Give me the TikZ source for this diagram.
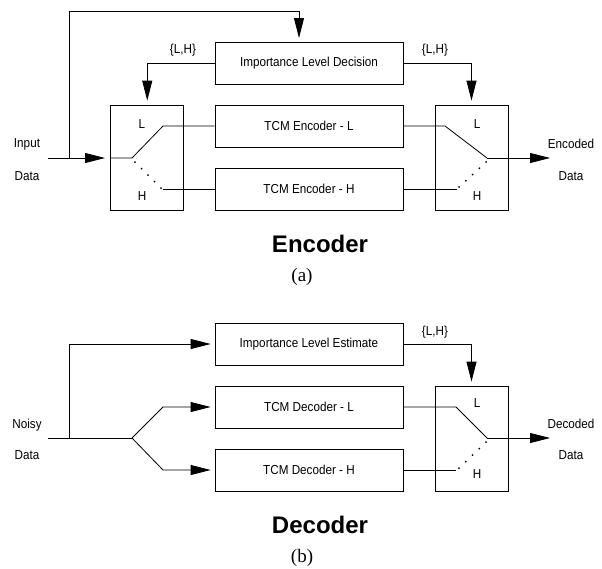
\documentclass[tikz,border=0pt]{standalone}
\usepackage{fontspec}
\setmainfont{Liberation Sans}
\newfontfamily\labfont[FakeStretch=0.9]{Liberation Sans}
\newfontfamily\capfont{Liberation Serif}
\usetikzlibrary{arrows.meta,calc}
\begin{document}
\begin{tikzpicture}[x=1pt,y=-1pt,
  line width=0.8pt,
  box/.style={draw,rectangle,minimum width=188pt,minimum height=42pt,inner sep=0pt,font=\labfont\fontsize{13}{13}\selectfont},
  swbox/.style={draw,rectangle,minimum width=73pt,minimum height=105pt,inner sep=0pt},
  lab/.style={anchor=base,inner sep=0pt,font=\labfont\fontsize{13}{13}\selectfont},
  title/.style={anchor=base,inner sep=0pt,font=\bfseries\fontsize{24}{24}\selectfont},
  sub/.style={anchor=base,inner sep=0pt,font=\capfont\fontsize{19}{19}\selectfont},
  arr/.style={-{Triangle[length=20pt,width=10pt]}},
  arrs/.style={arr,shorten >=4pt},
  dotsty/.style={fill=black}
]
\useasboundingbox (0,0) rectangle (602,568);

% ---------------- Encoder ----------------
\node[box] (idec) at (309,63) {Importance Level Decision};
\node[box] (encL) at (309,126) {TCM Encoder - L};
\node[box] (encH) at (309,189) {TCM Encoder - H};
\node[swbox] (swL) at (147.25,157.5) {};
\node[swbox] (swR) at (471.5,157.5) {};

\node[lab] (inA) at (27,147) {Input};
\node[lab] (inB) at (27,180) {Data};
\node[lab] (outA) at (571,148) {Encoded};
\node[lab] (outB) at (571,180) {Data};
\node[lab] (lhL) at (183,53) {\{L,H\}};
\node[lab] (lhR) at (435,53) {\{L,H\}};
\node[lab] (sLl) at (142,128) {L};
\node[lab] (sLh) at (142,200) {H};
\node[lab] (sRl) at (477,128) {L};
\node[lab] (sRh) at (477,200) {H};

\coordinate (inS) at (48,158);
\coordinate (fbE) at (69,158);
\coordinate (swLin) at (swL.west |- inS);
\coordinate (swLp) at (132,158);
\coordinate (swLup) at (163,126);
\coordinate (swLd1) at (135,162);
\coordinate (swLd2) at (161,188);
\coordinate (swLh) at (163,189);

\draw[arr] (inS) -- (105,158);
\draw (swLin) -- (swLp) -- (swLup) -- (encL.west);
\draw (swLh) -- (encH.west);
\foreach \t in {0,0.25,0.5,0.75,1} \fill ($(swLd1)!\t!(swLd2)$) circle (1pt);
\draw[arrs] (fbE) -- (69,11) -- (299,11) -- (299,42);
\draw[arrs] (idec.west) -| (swL.north);
\draw[arrs] (idec.east) -| (swR.north);

\coordinate (swRk) at (445,126);
\coordinate (swRp) at (487,158);
\coordinate (swRh) at (457,189);
\coordinate (swRd1) at (459,187);
\coordinate (swRd2) at (486,162);
\coordinate (outE) at (550,158);
\draw (encL.east) -- (swRk) -- (swRp);
\draw[arr] (swRp) -- (outE);
\draw (encH.east) -- (swRh);
\foreach \t in {0,0.25,0.5,0.75,1} \fill ($(swRd1)!\t!(swRd2)$) circle (1pt);

\node[title] (enc) at (320,252) {Encoder};
\node[sub] (ca) at (302,281) {(a)};

% ---------------- Decoder ----------------
\node[box] (iest) at (309,344) {Importance Level Estimate};
\node[box] (decL) at (309,407) {TCM Decoder - L};
\node[box] (decH) at (309,470) {TCM Decoder - H};
\node[swbox] (swD) at (471.5,438.5) {};

\node[lab] (nA) at (27,428) {Noisy};
\node[lab] (nB) at (27,459) {Data};
\node[lab] (dA) at (571,428) {Decoded};
\node[lab] (dB) at (571,459) {Data};
\node[lab] (lhD) at (435,335) {\{L,H\}};
\node[lab] (sDl) at (477,407) {L};
\node[lab] (sDh) at (477,478) {H};

\coordinate (nS) at (48,438);
\coordinate (nF) at (69,438);
\coordinate (nB0) at (132,438);
\coordinate (nBu) at (163,407);
\coordinate (nBd) at (163,470);
\draw (nS) -- (nB0);
\draw[arrs] (nF) |- (iest.west);
\draw[arrs] (nB0) -- (nBu) -- (decL.west);
\draw[arrs] (nB0) -- (nBd) -- (decH.west);
\draw[arrs] (iest.east) -| (swD.north);

\coordinate (swDk) at (456,407);
\coordinate (swDp) at (487,438);
\coordinate (swDh) at (456,470);
\coordinate (swDd1) at (459,468);
\coordinate (swDd2) at (486,442);
\coordinate (outD) at (550,438);
\draw (decL.east) -- (swDk) -- (swDp);
\draw[arr] (swDp) -- (outD);
\draw (decH.east) -- (swDh);
\foreach \t in {0,0.25,0.5,0.75,1} \fill ($(swDd1)!\t!(swDd2)$) circle (1pt);

\node[title] (dec) at (320,533) {Decoder};
\node[sub] (cb) at (302,562) {(b)};
\end{tikzpicture}
\end{document}
